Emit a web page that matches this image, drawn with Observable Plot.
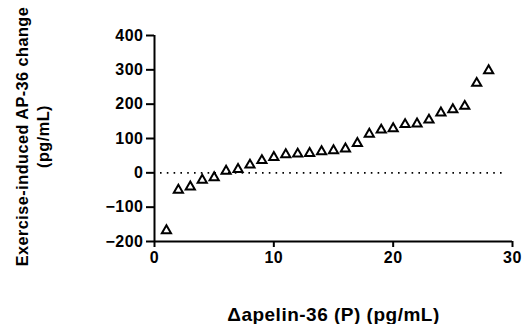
<!DOCTYPE html>
<html>
<head>
<meta charset="utf-8">
<script src="https://cdn.jsdelivr.net/npm/d3@7"></script>
<script src="https://cdn.jsdelivr.net/npm/@observablehq/plot@0.6"></script>
<style>
  html, body { margin: 0; padding: 0; background: #fff; }
</style>
</head>
<body>
<div id="chart"></div>
<script>
const rank = [1,2,3,4,5,6,7,8,9,10,11,12,13,14,15,16,17,18,19,20,21,22,23,24,25,26,27,28];
const change = [-168,-50,-41,-21,-14,5,10,23,36,45,53,55,57,62,65,70,86,113,125,129,141,143,154,175,184,194,261,298];
const xTicks = [0,10,20,30];
const yTicks = [-200,-100,0,100,200,300,400];
const xLabel = "Δapelin-36 (P) (pg/mL)";
const yLabel = "Exercise-induced AP-36 change\n(pg/mL)";

const data = rank.map((r, i) => ({rank: r, change: change[i]}));
const font = "'Liberation Sans', Arial, Helvetica, sans-serif";

const chart = Plot.plot({
  width: 525,
  height: 324,
  marginLeft: 154,
  marginRight: 13,
  marginTop: 35,
  marginBottom: 83,
  style: {fontFamily: font, fontSize: "16px", fontWeight: "bold", color: "black", background: "white", letterSpacing: "0.5px"},
  x: {domain: [0, 30]},
  y: {domain: [-200, 400]},
  marks: [
    Plot.ruleY([0], {stroke: "black", strokeWidth: 1.6, strokeDasharray: "1.6,5.2", insetLeft: 6, insetRight: 6}),
    Plot.axisY({ticks: yTicks, tickSize: 8, tickPadding: 3, strokeWidth: 2, fontSize: 16, fontWeight: "bold", label: null}),
    Plot.axisX({ticks: xTicks, tickSize: 6, tickPadding: 4, strokeWidth: 2, fontSize: 16, fontWeight: "bold", label: null}),
    Plot.ruleX([0], {stroke: "black", strokeWidth: 2}),
    Plot.ruleY([-200], {stroke: "black", strokeWidth: 2}),
    Plot.dot(data, {x: "rank", y: "change", symbol: "triangle", r: 3.4, stroke: "black", strokeWidth: 2, fill: "none"}),
    Plot.text([yLabel], {frameAnchor: "left", textAnchor: "middle", lineAnchor: "middle", rotate: -90, dx: -123, dy: -2, lineHeight: 1.28, fontSize: 16.2, fontWeight: "bold", fill: "black"}),
    Plot.text([xLabel], {frameAnchor: "bottom", textAnchor: "middle", lineAnchor: "middle", dy: 73, fontSize: 19, fontWeight: "bold", fill: "black"})
  ]
});
document.getElementById("chart").appendChild(chart);
</script>
</body>
</html>
